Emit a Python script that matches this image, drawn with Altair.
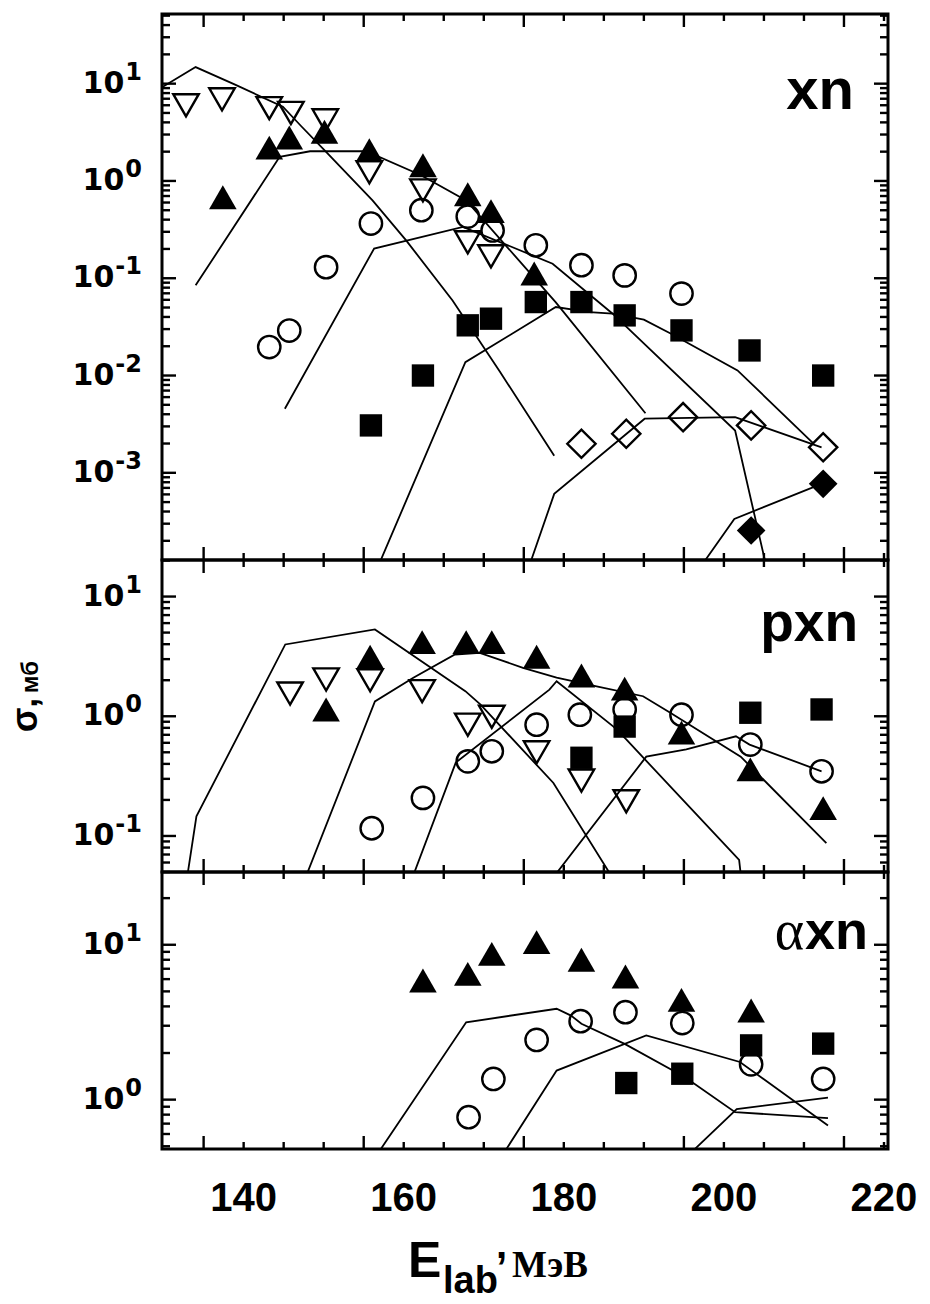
import math
import altair as alt
import pandas as pd

# ---------------- shared x axis (E_lab, MeV) ----------------
E_DOMAIN = [129.8, 220.5]
X_LABELS = [140, 160, 180, 200, 220]
X_LABEL_TEXT = ["140", "160", "180", "200", "220"]
X_TICKS = [135, 140, 145, 150, 155, 160, 165, 170, 175, 180, 185, 190, 195, 200, 205, 210, 215, 220]
X_LONG = [135, 155, 175, 195, 215]

W = 726
H_XN, H_PXN, H_AXN = 546, 312, 277

# ---------------- panel "xn" ----------------
XN_DOMAIN = [1.27e-4, 52.0]
XN_DECADES = [10, 1, 0.1, 0.01, 0.001]
XN_EXPONENTS = ["1", "0", "-1", "-2", "-3"]

xn_tdown_E = [132.8, 137.3, 143.2, 145.9, 150.2, 155.7, 162.4, 168.0, 170.9]
xn_tdown_s = [6.0, 6.9, 5.6, 5.0, 4.2, 1.23, 0.80, 0.234, 0.168]
xn_tup_E = [137.4, 143.2, 145.7, 150.1, 155.7, 162.4, 168.0, 170.9, 176.3]
xn_tup_s = [0.68, 2.2, 2.8, 3.2, 2.07, 1.45, 0.73, 0.49, 0.112]
xn_circle_E = [143.2, 145.7, 150.3, 155.9, 162.2, 168.0, 171.1, 176.5, 182.2, 187.6, 194.7]
xn_circle_s = [0.0196, 0.029, 0.130, 0.365, 0.50, 0.43, 0.31, 0.218, 0.136, 0.107, 0.0695]
xn_square_E = [155.9, 162.4, 168.0, 170.9, 176.5, 182.2, 187.6, 194.7, 203.2, 212.4]
xn_square_s = [0.00307, 0.0100, 0.0328, 0.0384, 0.0569, 0.0569, 0.0415, 0.0291, 0.0181, 0.0100]
xn_diamond_E = [182.2, 187.8, 194.9, 203.4, 212.4]
xn_diamond_s = [0.00199, 0.00252, 0.00373, 0.00307, 0.00183]
xn_diamondf_E = [203.4, 212.4]
xn_diamondf_s = [0.000255, 0.00077]

xn_c1_E = [129.8, 134.0, 139.0, 144.9, 147.2, 150.3, 156.1, 160.3, 166.1, 172.0, 178.8]
xn_c1_s = [9.2, 14.8, 9.7, 5.8, 3.65, 1.99, 0.63, 0.245, 0.059, 0.011, 0.0015]
xn_c2_E = [134.0, 144.5, 148.3, 155.3, 162.1, 167.8, 179.0, 190.2]
xn_c2_s = [0.0845, 1.77, 2.02, 2.02, 1.15, 0.63, 0.0565, 0.0041]
xn_c3_E = [145.15, 156.3, 167.4, 178.6, 186.1, 201.4, 205.4]
xn_c3_s = [0.00455, 0.202, 0.337, 0.141, 0.0432, 0.00272, 0.0001]
xn_c4_E = [156.6, 167.7, 179.0, 183.2, 186.1, 190.0, 193.4, 201.7, 211.2]
xn_c4_s = [0.0001, 0.0137, 0.0506, 0.0449, 0.0432, 0.0375, 0.0269, 0.0113, 0.0020]
xn_c5_E = [175.5, 178.8, 190.1, 201.4, 212.2]
xn_c5_s = [0.0001, 0.000608, 0.0036, 0.00373, 0.00183]
xn_c6_E = [196.8, 201.3, 212.2]
xn_c6_s = [0.0001, 0.000336, 0.00077]

# ---------------- panel "pxn" ----------------
PXN_DOMAIN = [0.05, 20.2]
PXN_DECADES = [10, 1, 0.1]
PXN_EXPONENTS = ["1", "0", "-1"]

pxn_tdown_E = [145.8, 150.3, 155.8, 162.3, 168.0, 171.0, 176.6, 182.2, 187.8]
pxn_tdown_s = [1.55, 2.03, 2.0, 1.62, 0.85, 0.99, 0.50, 0.29, 0.195]
pxn_tup_E = [150.3, 155.8, 162.3, 167.8, 171.0, 176.6, 182.2, 187.6, 194.7, 203.3, 212.4]
pxn_tup_s = [1.14, 3.14, 4.16, 4.16, 4.16, 3.14, 2.19, 1.70, 0.73, 0.36, 0.171]
pxn_circle_E = [156.0, 162.4, 168.0, 171.0, 176.6, 182.0, 187.6, 194.7, 203.3, 212.2]
pxn_circle_s = [0.116, 0.208, 0.42, 0.51, 0.85, 1.03, 1.14, 1.03, 0.58, 0.347]
pxn_square_E = [182.2, 187.6, 203.3, 212.2]
pxn_square_s = [0.45, 0.82, 1.07, 1.14]

pxn_c1_E = [133.0, 134.1, 145.2, 156.4, 167.7, 169.6, 178.7, 185.8]
pxn_c1_s = [0.048, 0.146, 3.98, 5.31, 1.62, 1.25, 0.277, 0.048]
pxn_c2_E = [147.9, 156.4, 161.2, 166.4, 169.5, 174.9, 179.1, 184.1, 189.9, 193.3, 202.1, 212.8]
pxn_c2_s = [0.048, 1.33, 2.10, 3.28, 3.39, 2.54, 2.10, 1.78, 1.47, 1.07, 0.46, 0.087]
pxn_c3_E = [161.25, 166.5, 178.2, 179.1, 186.2, 187.8, 201.9, 202.1]
pxn_c3_s = [0.048, 0.41, 1.67, 1.96, 0.82, 0.64, 0.063, 0.048]
pxn_c4_E = [179.0, 190.3, 195.3, 201.5, 203.2, 212.2]
pxn_c4_s = [0.048, 0.46, 0.53, 0.68, 0.58, 0.347]

# ---------------- panel "axn" ----------------
AXN_DOMAIN = [0.48, 29.5]
AXN_DECADES = [10, 1]
AXN_EXPONENTS = ["1", "0"]

axn_tup_E = [162.4, 168.0, 171.0, 176.6, 182.2, 187.7, 194.7, 203.4]
axn_tup_s = [5.88, 6.49, 8.73, 10.4, 8.0, 6.24, 4.41, 3.76]
axn_circle_E = [168.1, 171.2, 176.6, 182.1, 187.7, 194.8, 203.4, 212.4]
axn_circle_s = [0.77, 1.36, 2.43, 3.21, 3.67, 3.12, 1.69, 1.36]
axn_square_E = [187.8, 194.8, 203.4, 212.4]
axn_square_s = [1.28, 1.47, 2.24, 2.30]

axn_c1_E = [156.9, 167.8, 179.1, 180.9, 182.2, 187.6, 195.1, 201.4, 213.0]
axn_c1_s = [0.46, 3.16, 3.86, 3.49, 3.09, 2.29, 1.40, 0.83, 0.76]
axn_c2_E = [172.6, 179.1, 190.3, 202.0, 213.0]
axn_c2_s = [0.46, 1.54, 2.60, 1.75, 0.68]
axn_c3_E = [196.0, 201.6, 213.0]
axn_c3_s = [0.46, 0.87, 1.03]

# ---------------- styling ----------------
MARKERS = {
    "tdown": ("triangle-down", False, 650),
    "tup": ("triangle-up", True, 760),
    "circle": ("circle", False, 500),
    "square": ("square", True, 500),
    "diamond": ("diamond", False, 800),
    "diamondf": ("diamond", True, 820),
}
SANS = "Liberation Sans"
LAB_FONT = "DejaVu Sans"
BASE_SIZE, EXP_SIZE = 30, 24
LAB_RIGHT = -20  # right end of the y tick labels, px from the frame


def xscale():
    return alt.Scale(domain=E_DOMAIN, nice=False, zero=False)


def yscale(dom):
    return alt.Scale(type="log", domain=dom, nice=False)


def minor_ticks(dom):
    out = []
    for k in range(-5, 3):
        for d in range(2, 10):
            v = d * 10.0 ** k
            if dom[0] <= v <= dom[1]:
                out.append(v)
    return out


def text_layer(t, x, y, size, font=SANS, weight="bold", align="left",
               baseline="alphabetic", angle=0, style="normal"):
    return alt.Chart(pd.DataFrame({"t": [t]})).mark_text(
        fontSize=size, font=font, fontWeight=weight, align=align,
        baseline=baseline, angle=angle, fontStyle=style, color="black"
    ).encode(x=alt.value(x), y=alt.value(y), text="t:N")


def exp_width(e):
    # approximate advance of DejaVu Sans Bold glyphs
    return sum((0.415 if c == "-" else 0.696) * EXP_SIZE for c in e)


def decade_labels(ys, values, exps):
    out = []
    for v, e in zip(values, exps):
        d = pd.DataFrame({"v": [v], "b": ["10"], "e": [e]})
        bx = LAB_RIGHT - exp_width(e) - 1
        out.append(
            alt.Chart(d).mark_text(font=LAB_FONT, fontWeight="bold", fontSize=BASE_SIZE,
                                   align="right", baseline="middle", color="black").encode(
                y=alt.Y("v:Q", scale=ys, axis=None), x=alt.value(bx), text="b:N")
        )
        out.append(
            alt.Chart(d).mark_text(font=LAB_FONT, fontWeight="bold", fontSize=EXP_SIZE,
                                   align="right", baseline="middle", dy=-11,
                                   color="black").encode(
                y=alt.Y("v:Q", scale=ys, axis=None), x=alt.value(LAB_RIGHT), text="e:N")
        )
    return out


def panel(H, ydom, decades, exps, markers, curves, texts, show_x=False):
    xs = xscale()
    ys = yscale(ydom)
    layers = []

    # theory curves
    rows = []
    for ci, (E, s) in enumerate(curves):
        for i, (e, v) in enumerate(zip(E, s)):
            rows.append({"c": ci, "i": i, "E": e, "s": v})
    layers.append(
        alt.Chart(pd.DataFrame(rows)).mark_line(color="black", strokeWidth=1.8, clip=True).encode(
            x=alt.X("E:Q", scale=xs, axis=None),
            y=alt.Y("s:Q", scale=ys, axis=None),
            detail="c:N",
            order="i:Q",
        )
    )

    # experimental points
    for kind, E, s in markers:
        shape, filled, size = MARKERS[kind]
        layers.append(
            alt.Chart(pd.DataFrame({"E": E, "s": s})).mark_point(
                shape=shape, filled=filled, size=size, color="black",
                strokeWidth=2.4, opacity=1
            ).encode(
                x=alt.X("E:Q", scale=xs, axis=None),
                y=alt.Y("s:Q", scale=ys, axis=None),
            )
        )

    # inward x ticks (top & bottom)
    short = [v for v in X_TICKS if v not in X_LONG]
    for vals, L in ((X_LONG, 13), (short, 7)):
        d = pd.DataFrame({"E": vals})
        for y0, y1 in ((0, L), (H - L, H)):
            layers.append(
                alt.Chart(d).mark_rule(color="black", strokeWidth=2.4).encode(
                    x=alt.X("E:Q", scale=xs, axis=None), y=alt.value(y0), y2=alt.value(y1)
                )
            )

    # inward y ticks (left & right)
    minors = minor_ticks(ydom)
    for vals, L in ((decades, 14), (minors, 8)):
        d = pd.DataFrame({"v": vals})
        for x0, x1 in ((0, L), (W - L, W)):
            layers.append(
                alt.Chart(d).mark_rule(color="black", strokeWidth=2.4).encode(
                    y=alt.Y("v:Q", scale=ys, axis=None), x=alt.value(x0), x2=alt.value(x1)
                )
            )

    # y tick labels 10^n
    layers.extend(decade_labels(ys, decades, exps))

    # x tick labels on the bottom panel
    if show_x:
        layers.append(
            alt.Chart(pd.DataFrame({"E": X_LABELS, "lab": X_LABEL_TEXT})).mark_text(
                font=SANS, fontWeight="bold", fontSize=40, align="center",
                baseline="alphabetic", color="black"
            ).encode(
                x=alt.X("E:Q", scale=xs, axis=None), y=alt.value(H + 62), text="lab:N"
            )
        )

    layers.extend(texts)
    return alt.layer(*layers).properties(width=W, height=H)


# invisible anchor that fixes where the plot origin sits on the page
anchor = alt.Chart(pd.DataFrame({"a": [0]})).mark_rule(opacity=0, strokeWidth=1).encode(
    x=alt.value(-160.5), x2=alt.value(-150), y=alt.value(-12.5)
)

top = panel(
    H_XN, XN_DOMAIN, XN_DECADES, XN_EXPONENTS,
    [
        ("tdown", xn_tdown_E, xn_tdown_s),
        ("tup", xn_tup_E, xn_tup_s),
        ("circle", xn_circle_E, xn_circle_s),
        ("square", xn_square_E, xn_square_s),
        ("diamond", xn_diamond_E, xn_diamond_s),
        ("diamondf", xn_diamondf_E, xn_diamondf_s),
    ],
    [(xn_c1_E, xn_c1_s), (xn_c2_E, xn_c2_s), (xn_c3_E, xn_c3_s),
     (xn_c4_E, xn_c4_s), (xn_c5_E, xn_c5_s), (xn_c6_E, xn_c6_s)],
    [text_layer("xn", 692, 95, 58, align="right"), anchor],
)

mid = panel(
    H_PXN, PXN_DOMAIN, PXN_DECADES, PXN_EXPONENTS,
    [
        ("tdown", pxn_tdown_E, pxn_tdown_s),
        ("tup", pxn_tup_E, pxn_tup_s),
        ("circle", pxn_circle_E, pxn_circle_s),
        ("square", pxn_square_E, pxn_square_s),
    ],
    [(pxn_c1_E, pxn_c1_s), (pxn_c2_E, pxn_c2_s), (pxn_c3_E, pxn_c3_s), (pxn_c4_E, pxn_c4_s)],
    [
        text_layer("pxn", 696, 81, 55, align="right"),
        text_layer("σ,", -136, 155, 36, align="center", baseline="middle", angle=270),
        text_layer("мб", -131, 117, 24, align="center", baseline="middle", angle=270),
    ],
)

bot = panel(
    H_AXN, AXN_DOMAIN, AXN_DECADES, AXN_EXPONENTS,
    [
        ("tup", axn_tup_E, axn_tup_s),
        ("circle", axn_circle_E, axn_circle_s),
        ("square", axn_square_E, axn_square_s),
    ],
    [(axn_c1_E, axn_c1_s), (axn_c2_E, axn_c2_s), (axn_c3_E, axn_c3_s)],
    [
        text_layer("xn", 706, 77, 54, align="right"),
        text_layer("α", 642, 77, 56, font="Liberation Serif", weight="normal", align="right"),
        text_layer("E", 246, 405, 50),
        text_layer("lab", 281, 421, 38),
        text_layer(",", 334, 386, 40),
        text_layer("МэВ", 350, 405, 37, font="Liberation Serif"),
    ],
    show_x=True,
)

chart = alt.vconcat(top, mid, bot, spacing=0, bounds="flush").properties(
    padding=0, background="white"
).configure_view(stroke="black", strokeWidth=3)

chart.save("out.html", embed_options={"renderer": "svg", "actions": False})
